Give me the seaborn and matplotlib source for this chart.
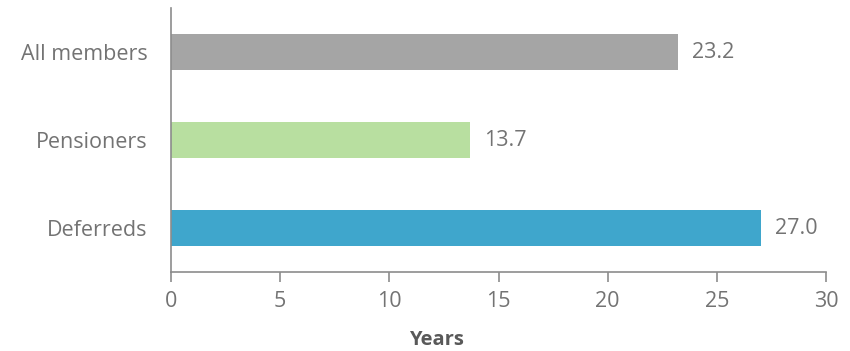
import matplotlib
matplotlib.use("Agg")
import matplotlib.pyplot as plt
import seaborn as sns
import pandas as pd

categories = ["All members", "Pensioners", "Deferreds"]
values = [23.2, 13.7, 27.0]
colors = ["#A5A5A5", "#B8DFA0", "#3FA6CC"]
xticks = [0, 5, 10, 15, 20, 25, 30]

sns.set_theme(style="white")
plt.rcParams["font.family"] = ["Open Sans", "DejaVu Sans"]

df = pd.DataFrame({"cat": categories, "val": values})

fig = plt.figure(figsize=(8.5, 3.51), dpi=100)
ax = fig.add_axes([171/850, 1-272/351, (826-171)/850, (272-8)/351])

sns.barplot(data=df, y="cat", x="val", hue="cat", palette=colors, dodge=False,
            width=0.4, legend=False, ax=ax, saturation=1, linewidth=0)

txt = "#737373"
for i, v in enumerate(values):
    ax.text(v + 0.65, i, f"{v:.1f}", va="center", ha="left", fontsize=15.5, color=txt)

ax.set_xlim(0, 30)
ax.set_ylim(2.5, -0.5)
ax.set_xticks(xticks)
ax.set_xticklabels([str(t) for t in xticks])
ax.set_ylabel("")
ax.set_xlabel("Years", fontsize=14.5, fontweight="bold", color="#595959")
ax.xaxis.set_label_coords((436 - 171) / 655, -(340 - 272) / 264, transform=ax.transAxes)
ax.xaxis.label.set_va("center")

for s in ["top", "right"]:
    ax.spines[s].set_visible(False)
for s in ["left", "bottom"]:
    ax.spines[s].set_color("#8c8c8c")
    ax.spines[s].set_linewidth(1.2)

ax.tick_params(axis="x", which="both", bottom=True, length=7, width=1.2, color="#8c8c8c",
               labelsize=15.5, labelcolor=txt, pad=7)
ax.tick_params(axis="y", left=False, labelsize=15.5, labelcolor=txt, pad=11)

fig.savefig("out.png", dpi=100)
